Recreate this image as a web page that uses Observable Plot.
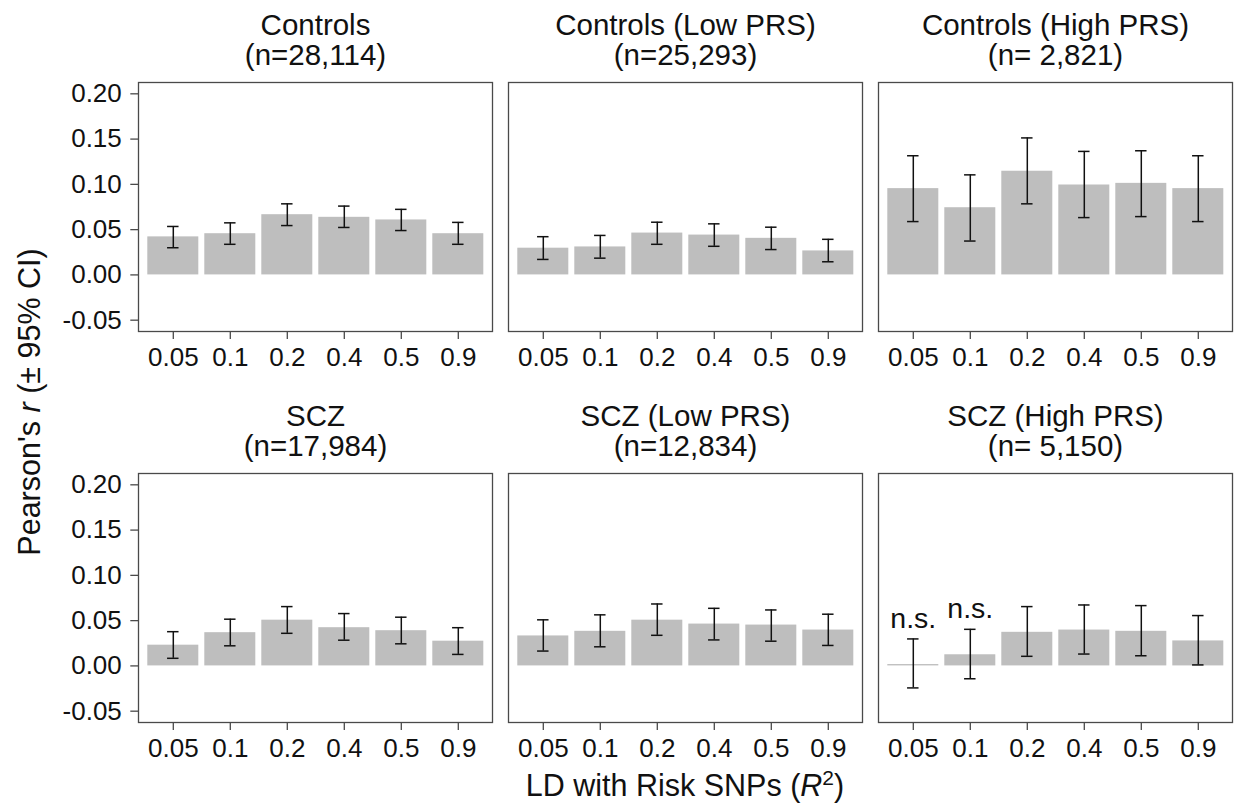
<!DOCTYPE html>
<html>
<head>
<meta charset="utf-8">
<script src="https://cdn.jsdelivr.net/npm/d3@7"></script>
<script src="https://cdn.jsdelivr.net/npm/@observablehq/plot@0.6"></script>
<style>
  html, body { margin: 0; padding: 0; background: #fff; }
  #chart { width: 1238px; height: 809px; }
</style>
</head>
<body>
<div id="chart"></div>
<script>
// ---- data ----
const categories = ["0.05", "0.1", "0.2", "0.4", "0.5", "0.9"];
const panelNames = ["Controls", "Controls (Low PRS)", "Controls (High PRS)", "SCZ", "SCZ (Low PRS)", "SCZ (High PRS)"];
const panelSizes = ["(n=28,114)", "(n=25,293)", "(n= 2,821)", "(n=17,984)", "(n=12,834)", "(n= 5,150)"];

const controlsR  = [0.0420, 0.0455, 0.0665, 0.0636, 0.0607, 0.0455];
const controlsLo = [0.0300, 0.0338, 0.0545, 0.0524, 0.0490, 0.0338];
const controlsHi = [0.0535, 0.0575, 0.0785, 0.0760, 0.0724, 0.0580];

const controlsLowR  = [0.0295, 0.0309, 0.0462, 0.0440, 0.0404, 0.0265];
const controlsLowLo = [0.0171, 0.0185, 0.0338, 0.0316, 0.0280, 0.0145];
const controlsLowHi = [0.0422, 0.0436, 0.0582, 0.0564, 0.0527, 0.0393];

const controlsHighR  = [0.0953, 0.0742, 0.1145, 0.0993, 0.1011, 0.0953];
const controlsHighLo = [0.0589, 0.0374, 0.0785, 0.0633, 0.0644, 0.0589];
const controlsHighHi = [0.1316, 0.1105, 0.1513, 0.1364, 0.1371, 0.1316];

const sczR  = [0.0229, 0.0367, 0.0505, 0.0422, 0.0389, 0.0273];
const sczLo = [0.0084, 0.0222, 0.0360, 0.0284, 0.0244, 0.0127];
const sczHi = [0.0378, 0.0516, 0.0655, 0.0578, 0.0538, 0.0422];

const sczLowR  = [0.0331, 0.0382, 0.0505, 0.0462, 0.0451, 0.0396];
const sczLowLo = [0.0164, 0.0211, 0.0338, 0.0287, 0.0273, 0.0226];
const sczLowHi = [0.0509, 0.0564, 0.0684, 0.0636, 0.0618, 0.0571];

const sczHighR  = [0.0015, 0.0123, 0.0371, 0.0396, 0.0382, 0.0276];
const sczHighLo = [-0.0243, -0.0142, 0.0106, 0.0131, 0.0112, 0.0011];
const sczHighHi = [0.0298, 0.0404, 0.0655, 0.0673, 0.0666, 0.0556];
const sczHighSig = ["n.s.", "n.s.", "", "", "", ""];

const yTicks = [-0.05, 0, 0.05, 0.10, 0.15, 0.20];

// ---- table built from arrays ----
const seriesR  = [controlsR, controlsLowR, controlsHighR, sczR, sczLowR, sczHighR];
const seriesLo = [controlsLo, controlsLowLo, controlsHighLo, sczLo, sczLowLo, sczHighLo];
const seriesHi = [controlsHi, controlsLowHi, controlsHighHi, sczHi, sczLowHi, sczHighHi];
const seriesSig = [null, null, null, null, null, sczHighSig];

const rows = [];
panelNames.forEach((p, i) => {
  categories.forEach((c, j) => {
    rows.push({
      col: i % 3, row: Math.floor(i / 3), cat: c,
      r: seriesR[i][j], lo: seriesLo[i][j], hi: seriesHi[i][j],
      sig: seriesSig[i] ? seriesSig[i][j] : ""
    });
  });
});
const panelIdx = panelNames.map((_, i) => i);

const FONT = "'Liberation Sans', Arial, Helvetica, sans-serif";
const ink = "#111111";
const bandwidth = 355 / 6.2 * 0.9;
const capInset = (bandwidth - 12) / 2;

const chart = Plot.plot({
  width: 1238,
  height: 809,
  marginLeft: 136.7,
  marginRight: 4.7,
  marginTop: 81,
  marginBottom: 86,
  style: { fontFamily: FONT, background: "#fff", color: ink },
  fx: { domain: [0, 1, 2], paddingInner: 0.0426, paddingOuter: 0, axis: null, label: null },
  fy: { domain: [0, 1], paddingInner: 0.3622, paddingOuter: 0, axis: null, label: null },
  x: { domain: categories, paddingInner: 0.1, paddingOuter: 0.15, label: null },
  y: { domain: [-0.0625, 0.2125], label: null },
  marks: [
    Plot.barY(rows, { x: "cat", y: "r", fx: "col", fy: "row", fill: "#bebebe" }),
    Plot.ruleX(rows, { x: "cat", y1: "lo", y2: "hi", fx: "col", fy: "row", stroke: ink, strokeWidth: 1.5 }),
    Plot.tickY(rows, { x: "cat", y: "lo", fx: "col", fy: "row", stroke: ink, strokeWidth: 1.5, insetLeft: capInset, insetRight: capInset }),
    Plot.tickY(rows, { x: "cat", y: "hi", fx: "col", fy: "row", stroke: ink, strokeWidth: 1.5, insetLeft: capInset, insetRight: capInset }),
    Plot.text(rows.filter(d => d.sig), { x: "cat", y: "hi", fx: "col", fy: "row", text: "sig", lineAnchor: "bottom", dy: -11, fontSize: 28.5, fill: ink }),
    Plot.frame({ stroke: "#4a4a4a", strokeWidth: 1.3 }),
    Plot.axisX({ facetAnchor: null, tickSize: 8, tickPadding: 8, fontSize: 26, stroke: "#4a4a4a", fill: ink, label: null, strokeWidth: 1.3 }),
    Plot.axisY({ ticks: yTicks, tickFormat: d => d.toFixed(2), tickSize: 7.7, tickPadding: 9, fontSize: 26, stroke: "#4a4a4a", fill: ink, label: null, strokeWidth: 1.3 }),
    Plot.text(panelIdx, {
      fx: i => i % 3, fy: i => Math.floor(i / 3),
      text: i => panelNames[i] + "\n" + panelSizes[i],
      frameAnchor: "top", lineAnchor: "bottom", dy: -17.7,
      fontSize: 29.5, lineHeight: 30 / 29.5, fill: ink
    })
  ]
});

document.getElementById("chart").appendChild(chart);

// axis titles with mixed styling
const svg = d3.select(chart);
const xt = svg.append("text")
  .attr("x", 685).attr("y", 796)
  .attr("text-anchor", "middle")
  .attr("font-family", FONT).attr("font-size", 30.5).attr("fill", ink);
xt.append("tspan").text("LD with Risk SNPs (");
xt.append("tspan").attr("font-style", "italic").text("R");
xt.append("tspan").attr("font-size", 21).attr("dy", -11).text("2");
xt.append("tspan").attr("dy", 11).text(")");

const yt = svg.append("text")
  .attr("transform", "translate(40,402) rotate(-90)")
  .attr("text-anchor", "middle")
  .attr("font-family", FONT).attr("font-size", 30.5).attr("fill", ink);
yt.append("tspan").text("Pearson's ");
yt.append("tspan").attr("font-style", "italic").text("r");
yt.append("tspan").text(" (± 95% CI)");
</script>
</body>
</html>
